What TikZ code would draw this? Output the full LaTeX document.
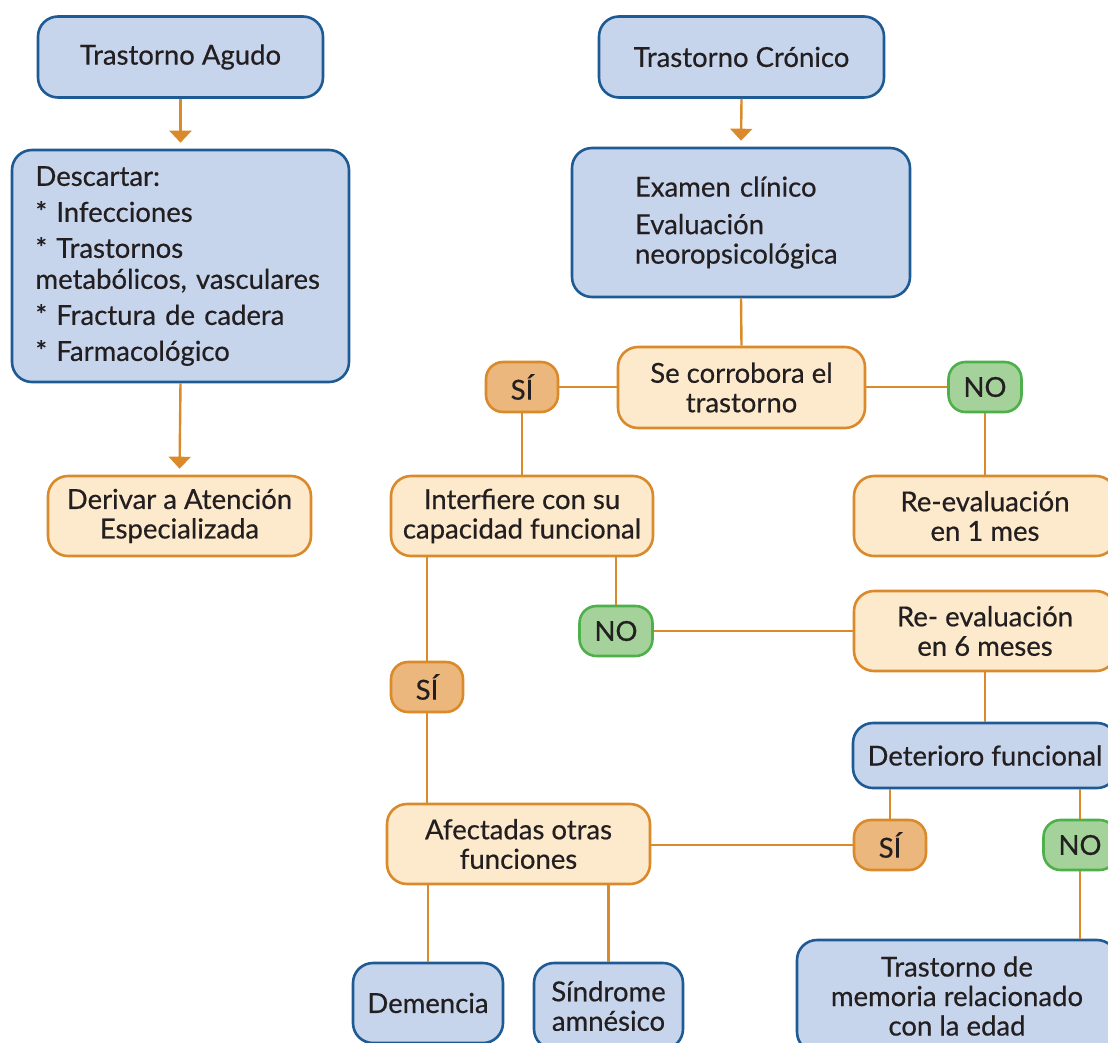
\documentclass[tikz,border=0pt]{standalone}
\usepackage{fontspec}
\setmainfont{Lato}[FakeBold=0.5]
\usetikzlibrary{arrows.meta}
\definecolor{bluefill}{HTML}{C6D4EC}
\definecolor{blueline}{HTML}{1E5B95}
\definecolor{orfill}{HTML}{FDE9CB}
\definecolor{orline}{HTML}{DA8A2A}
\definecolor{sifill}{HTML}{EBB77D}
\definecolor{nofill}{HTML}{A4D29A}
\definecolor{noline}{HTML}{4DB04A}
\definecolor{ink}{HTML}{231F20}
\begin{document}
\begin{tikzpicture}[x=1pt,y=-1pt,
  every node/.style={font=\fontsize{27.5}{29.5}\selectfont, text=ink},
  box/.style={draw, line width=2.6pt, rounded corners=20pt, align=center, inner sep=0pt},
  bluebox/.style={box, draw=blueline, fill=bluefill},
  orbox/.style={box, draw=orline, fill=orfill},
  sipill/.style={draw=orline, fill=sifill, line width=2.6pt, rounded corners=17pt,
    minimum width=72pt, minimum height=50pt, inner sep=0pt},
  nopill/.style={draw=noline, fill=nofill, line width=2.6pt, rounded corners=17pt,
    minimum width=73pt, minimum height=50pt, inner sep=0pt},
  link/.style={draw=orline, line width=2.4pt},
  arrowlink/.style={link, -{Triangle[width=22pt,length=12pt]}, shorten >=6pt}]
\useasboundingbox (0,0) rectangle (1108,1042);
\clip (0,0) rectangle (1108,1042);

% left column
\node[bluebox, minimum width=285pt, minimum height=81pt] (agudo) at (180.5,57) {Trastorno Agudo};
\node[bluebox, minimum width=337pt, minimum height=232pt, text width=290pt, align=left,
  font=\fontsize{27.5}{31}\selectfont] (descartar) at (180.5,266)
  {Descartar:\\[5pt]* Infecciones\\[5pt]* Trastornos\\metabólicos, vasculares\\[5pt]* Fractura de cadera\\[5pt]* Farmacológico};
\node[orbox, minimum width=263pt, minimum height=80pt] (derivar) at (179.5,516) {Derivar a Atención\\Especializada};

% right column
\node[bluebox, minimum width=285pt, minimum height=81pt] (cronico) at (741.5,57) {Trastorno Crónico};
\node[bluebox, minimum width=338pt, minimum height=149pt, text width=212pt, align=left,
  font=\fontsize{27.5}{29.5}\selectfont] (examen) at (741,222.5)
  {Examen clínico\\[8pt]Evaluación\\neoropsicológica};
\node[orbox, minimum width=247pt, minimum height=81pt] (corrobora) at (741.5,387.5) {Se corrobora el\\trastorno};
\node[sipill] (si1) at (522,387) {SÍ};
\node[nopill] (no1) at (985,387) {NO};
\node[orbox, minimum width=262pt, minimum height=80pt] (interfiere) at (522,516) {Interfiere con su\\capacidad funcional};
\node[orbox, minimum width=262pt, minimum height=80pt] (re1) at (985,516) {Re-evaluación\\en 1 mes};
\node[nopill] (no2) at (616,631) {NO};
\node[orbox, minimum width=262pt, minimum height=80pt] (re6) at (985,631) {Re- evaluación\\en 6 meses};
\node[sipill] (si2) at (427,687) {SÍ};
\node[bluebox, minimum width=264pt, minimum height=65pt] (deterioro) at (985,755.5) {Deterioro funcional};
\node[orbox, minimum width=263pt, minimum height=80pt] (afectadas) at (518.5,844) {Afectadas otras\\funciones};
\node[sipill] (si3) at (890,845) {SÍ};
\node[nopill] (no3) at (1080,845) {NO};
\node[bluebox, minimum width=150pt, minimum height=80pt] (demencia) at (428,1003) {Demencia};
\node[bluebox, minimum width=149pt, minimum height=86pt] (sindrome) at (608.5,1006) {Síndrome\\amnésico};
\node[bluebox, minimum width=320pt, minimum height=112pt] (memoria) at (957,996) {Trastorno de\\memoria relacionado\\con la edad};

% arrows
\draw[arrowlink] (agudo.south) -- (descartar.north);
\draw[arrowlink] (descartar.south) -- (derivar.north);
\draw[arrowlink] (cronico.south) -- (examen.north);

% connectors
\draw[link] (examen.south) -- (corrobora.north);
\draw[link] (si1.east) -- (si1.east -| corrobora.west);
\draw[link] (corrobora.east |- no1.west) -- (no1.west);
\draw[link] (si1.south) -- (si1.south |- interfiere.north);
\draw[link] (no1.south) -- (re1.north);
\draw[link] (si2.north) -- (si2.north |- interfiere.south);
\draw[link] (si2.south) -- (si2.south |- afectadas.north);
\draw[link] (no2.north) -- (no2.north |- interfiere.south);
\draw[link] (no2.east) -- (no2.east -| re6.west);
\draw[link] (re6.south) -- (deterioro.north);
\draw[link] (si3.north) -- (si3.north |- deterioro.south);
\draw[link] (no3.north) -- (no3.north |- deterioro.south);
\draw[link] (no3.south) -- (no3.south |- memoria.north);
\draw[link] (si3.west) -- (si3.west -| afectadas.east);
\draw[link] (demencia.north) -- (demencia.north |- afectadas.south);
\draw[link] (sindrome.north) -- (sindrome.north |- afectadas.south);
\end{tikzpicture}
\end{document}
